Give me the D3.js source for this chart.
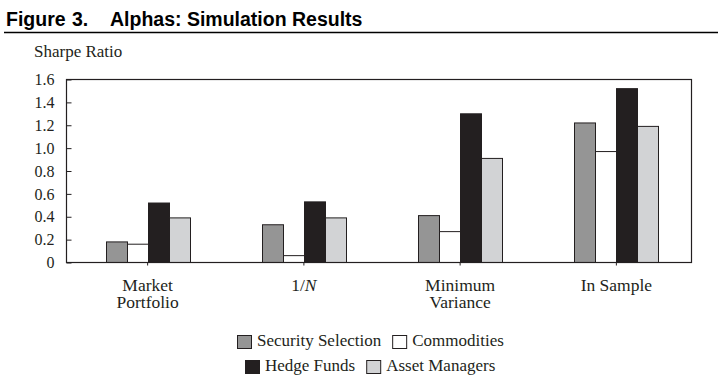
<!DOCTYPE html>
<html>
<head>
<meta charset="utf-8">
<script src="https://cdn.jsdelivr.net/npm/d3@7"></script>
<style>
  body { margin: 0; background: #fff; }
  text { font-family: "Liberation Serif", "Times New Roman", serif; fill: #231f20; }
</style>
</head>
<body>
<div id="chart"></div>
<script>
// data
var categories = ["Market Portfolio", "1/N", "Minimum Variance", "In Sample"];
var categoryLines = [["Market", "Portfolio"], ["1/N"], ["Minimum", "Variance"], ["In Sample"]];
var seriesNames = ["Security Selection", "Commodities", "Hedge Funds", "Asset Managers"];
var securitySelection = [0.18, 0.33, 0.41, 1.22];
var commodities = [0.16, 0.06, 0.27, 0.97];
var hedgeFunds = [0.52, 0.53, 1.30, 1.52];
var assetManagers = [0.39, 0.39, 0.91, 1.19];
var yTicks = [0, 0.2, 0.4, 0.6, 0.8, 1.0, 1.2, 1.4, 1.6];

var colors = ["#959595", "#ffffff", "#231f20", "#d2d3d5"];
var series = [securitySelection, commodities, hedgeFunds, assetManagers];

var W = 718, H = 377;
var plotL = 66.5, plotR = 691.5, plotT = 79.5, plotB = 262.5;

var svg = d3.select("#chart").append("svg")
    .attr("width", W)
    .attr("height", H);

// title + rule
[["Figure", 6], ["3.", 72], ["Alphas: Simulation Results", 110]].forEach(function (p) {
    svg.append("text").attr("x", p[1]).attr("y", 26).text(p[0])
        .style("font-family", "'Liberation Sans', Arial, sans-serif")
        .style("font-weight", "bold").style("font-size", "19.5px").style("fill", "#000");
});
svg.append("line")
    .attr("x1", 4).attr("x2", W).attr("y1", 32.5).attr("y2", 32.5)
    .attr("stroke", "#000").attr("stroke-width", 1.3);

svg.append("text").attr("x", 34).attr("y", 57).text("Sharpe Ratio")
    .style("font-size", "17px");

var y = d3.scaleLinear().domain([0, 1.6]).range([plotB, plotT]);
// groups sit a few px right of the band centres in the original
var x = d3.scaleBand().domain(categories).range([plotL + 3, plotR + 3]);
var barW = 21;
var xs = d3.scaleBand().domain(seriesNames).range([0, barW * 4]);

// y axis (ticks point inward)
var yAxis = d3.axisLeft(y)
    .tickValues(yTicks)
    .tickSizeInner(-5)
    .tickSizeOuter(0)
    .tickPadding(12)
    .tickFormat(function (d) { return d === 0 ? "0" : d3.format(".1f")(d); });
var gy = svg.append("g").attr("transform", "translate(" + plotL + ",0)").call(yAxis);
gy.select(".domain").remove();
gy.selectAll("text").style("font-size", "16px")
    .style("font-family", "'Liberation Serif', serif").attr("fill", "#231f20");
gy.selectAll("line").attr("stroke", "#231f20");

// bars
for (var s = 0; s < series.length; s++) {
    svg.append("g").selectAll("rect")
        .data(series[s])
        .enter().append("rect")
        .attr("x", function (d, i) { return Math.round(x(categories[i]) + x.bandwidth() / 2 - barW * 2 + xs(seriesNames[s])) + 0.5; })
        .attr("y", function (d) { return y(d); })
        .attr("width", barW)
        .attr("height", function (d) { return plotB - y(d); })
        .attr("fill", colors[s])
        .attr("stroke", "#231f20")
        .attr("stroke-width", 1);
}

// frame
svg.append("rect")
    .attr("x", plotL).attr("y", plotT)
    .attr("width", plotR - plotL).attr("height", plotB - plotT)
    .attr("fill", "none").attr("stroke", "#231f20").attr("stroke-width", 1.2);

// x ticks and labels
var xAxis = d3.axisBottom(x).tickSizeInner(3).tickSizeOuter(0).tickFormat("");
var gx = svg.append("g").attr("transform", "translate(0," + plotB + ")").call(xAxis);
gx.select(".domain").remove();
gx.selectAll("line").attr("stroke", "#231f20");

categories.forEach(function (c, i) {
    var cx = x(c) + x.bandwidth() / 2;
    var t = svg.append("text")
        .attr("x", cx)
        .attr("y", 290.5)
        .attr("text-anchor", "middle")
        .style("font-size", "17.5px");
    categoryLines[i].forEach(function (line, j) {
        var ts = t.append("tspan").attr("x", cx).attr("dy", j === 0 ? 0 : 17.5);
        if (line === "1/N") {
            ts.text("1/");
            ts.append("tspan").style("font-style", "italic").text("N");
        } else {
            ts.text(line);
        }
    });
});

// legend: two rows, each centred
var rows = [[0, 1], [2, 3]];
var rowY = [335, 360];
var legendCenter = 370;
rows.forEach(function (row, r) {
    var g = svg.append("g");
    var cx = 0;
    row.forEach(function (si) {
        g.append("rect")
            .attr("x", cx + 0.5).attr("y", rowY[r] + 0.5)
            .attr("width", 14).attr("height", 13)
            .attr("fill", colors[si]).attr("stroke", "#231f20");
        var t = g.append("text")
            .attr("x", cx + 20).attr("y", rowY[r] + 11)
            .style("font-size", "17px")
            .text(seriesNames[si]);
        cx += 20 + t.node().getComputedTextLength() + 11;
    });
    var wRow = cx - 11;
    g.attr("transform", "translate(" + Math.round(legendCenter - wRow / 2) + ",0)");
});
</script>
</body>
</html>
